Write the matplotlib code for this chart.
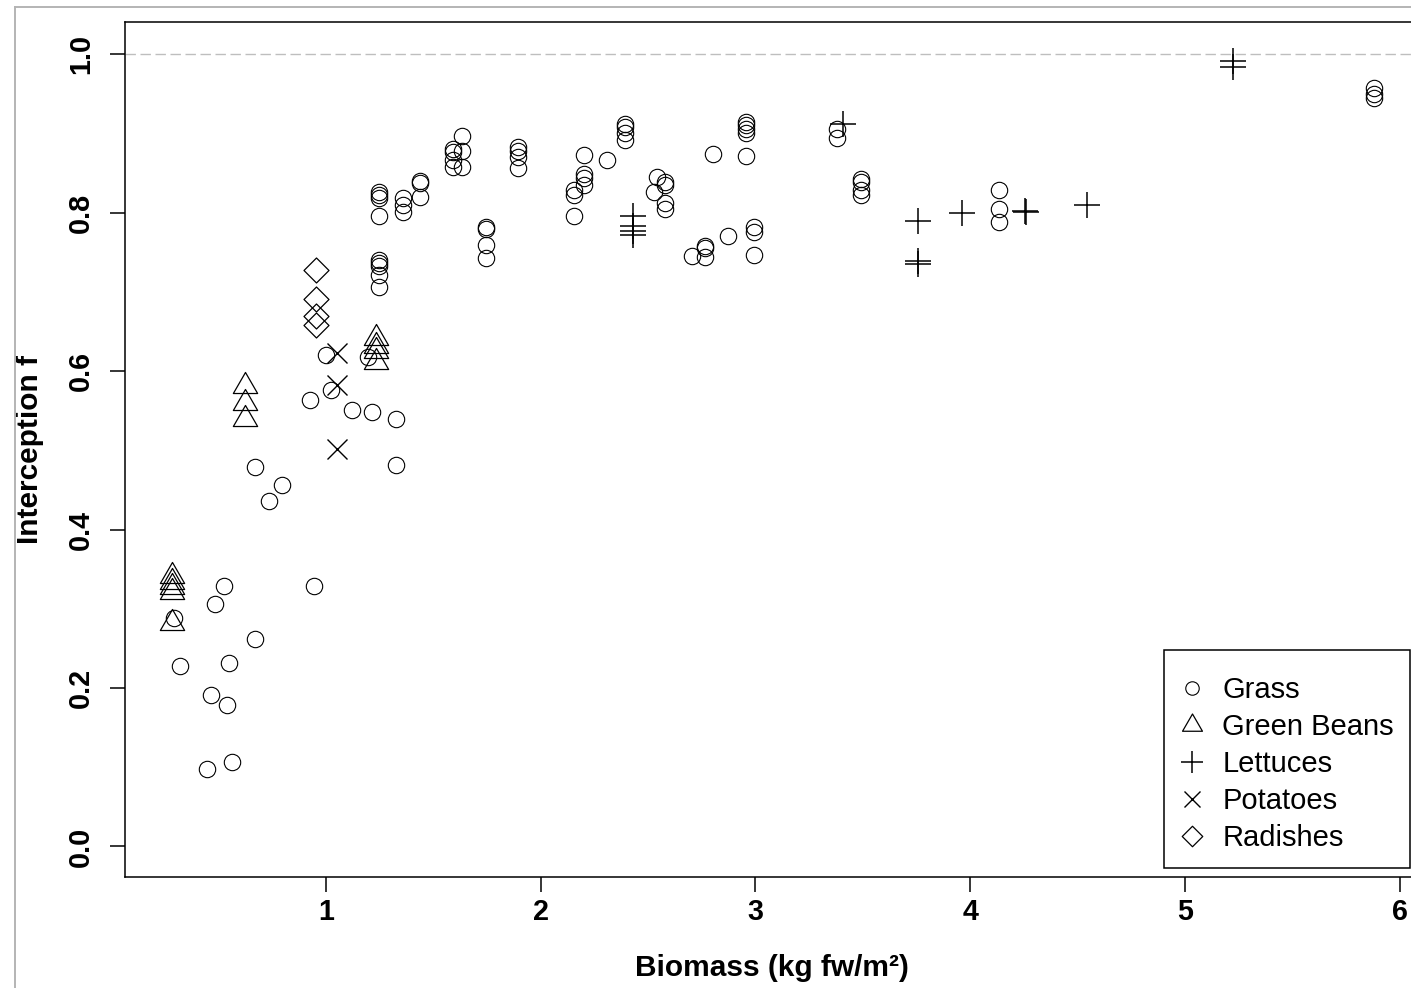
import matplotlib
matplotlib.use("Agg")
import matplotlib.pyplot as plt
from matplotlib.path import Path
from matplotlib.lines import Line2D

plt.rcParams["font.family"] = ["Liberation Sans", "DejaVu Sans"]

# ---- data: biomass (kg fw/m2) and light interception fraction ----
grass_x = [0.320, 0.290, 0.464, 0.448, 0.483, 0.526, 0.550, 0.540, 0.561, 0.669,
           0.669, 0.735, 0.795, 0.943, 0.925, 1.000, 1.022, 1.122, 1.216, 1.326,
           1.326, 1.195,
           1.248, 1.248, 1.248, 1.248, 1.248, 1.248, 1.248, 1.248, 1.248,
           1.360, 1.360, 1.360,
           1.438, 1.438, 1.438,
           1.590, 1.590, 1.590, 1.590,
           1.632, 1.632, 1.632,
           1.744, 1.744, 1.744, 1.744,
           1.895, 1.895, 1.895, 1.895,
           2.157, 2.157, 2.157,
           2.203, 2.203, 2.203, 2.203,
           2.307,
           2.392, 2.392, 2.392, 2.392,
           2.540, 2.527,
           2.579, 2.579, 2.579, 2.579,
           2.703,
           2.765, 2.765, 2.765,
           2.800, 2.873,
           2.958, 2.958, 2.958, 2.958, 2.958,
           2.995, 2.995, 2.995,
           3.378, 3.378,
           3.490, 3.490, 3.490, 3.490,
           4.135, 4.135, 4.135,
           5.880, 5.880, 5.880]
grass_y = [0.228, 0.288, 0.191, 0.098, 0.306, 0.329, 0.232, 0.179, 0.106, 0.262,
           0.479, 0.436, 0.456, 0.329, 0.563, 0.620, 0.576, 0.551, 0.548, 0.539,
           0.481, 0.618,
           0.826, 0.822, 0.818, 0.796, 0.740, 0.736, 0.733, 0.721, 0.706,
           0.818, 0.809, 0.801,
           0.840, 0.837, 0.820,
           0.880, 0.876, 0.866, 0.858,
           0.896, 0.878, 0.858,
           0.782, 0.779, 0.759, 0.742,
           0.883, 0.877, 0.870, 0.856,
           0.828, 0.822, 0.796,
           0.873, 0.849, 0.843, 0.835,
           0.866,
           0.912, 0.908, 0.900, 0.891,
           0.845, 0.826,
           0.839, 0.835, 0.812, 0.805,
           0.745,
           0.758, 0.755, 0.744,
           0.874, 0.770,
           0.914, 0.910, 0.906, 0.900, 0.871,
           0.782, 0.776, 0.746,
           0.905, 0.894,
           0.842, 0.838, 0.828, 0.822,
           0.828, 0.805, 0.788,
           0.957, 0.950, 0.944]

beans_x = [0.285, 0.285, 0.285, 0.285, 0.285,
           0.623, 0.623, 0.623,
           1.231, 1.231, 1.231, 1.231]
beans_y = [0.341, 0.334, 0.328, 0.321, 0.282,
           0.581, 0.560, 0.540,
           0.642, 0.632, 0.625, 0.611]

lettuce_x = [2.428, 2.428, 2.428, 2.428, 3.409, 3.755, 3.755, 3.755,
             3.963, 4.253, 4.260, 4.542, 5.222, 5.222]
lettuce_y = [0.795, 0.783, 0.777, 0.771, 0.912, 0.789, 0.739, 0.735,
             0.799, 0.802, 0.801, 0.810, 0.991, 0.983]

potato_x = [1.050, 1.050, 1.050]
potato_y = [0.623, 0.582, 0.501]

radish_x = [0.952, 0.952, 0.952, 0.952]
radish_y = [0.727, 0.691, 0.669, 0.658]

x_ticks = [1, 2, 3, 4, 5, 6]
y_ticks = [0.0, 0.2, 0.4, 0.6, 0.8, 1.0]

# ---- marker shapes (open symbols, centred on the data point) ----
MC = [Path.MOVETO, Path.LINETO, Path.LINETO, Path.CLOSEPOLY]
triangle = Path([(0, 1), (-0.866, -0.5), (0.866, -0.5), (0, 0)], MC)
diamond = Path([(0, 1), (1, 0), (0, -1), (-1, 0), (0, 0)],
               [Path.MOVETO, Path.LINETO, Path.LINETO, Path.LINETO, Path.CLOSEPOLY])

W, H = 1411, 988
fig = plt.figure(figsize=(W / 100, H / 100), dpi=100)
# plot region in pixels: left 125, right 1421 (runs past the edge), top 22, bottom 877
ax = fig.add_axes([125 / W, (H - 877) / H, (1421 - 125) / W, (877 - 22) / H])
ax.set_xlim(0.064, 6.099)
ax.set_ylim(-0.0385, 1.0404)

ax.axhline(1.0, color="#bebebe", lw=1.0, ls=(0, (7.5, 3.3)), zorder=1)

common = dict(ls="none", mfc="none", mec="black", zorder=3)
ax.plot(grass_x, grass_y, marker="o", ms=11.8, mew=0.8, label="Grass", **common)
ax.plot(beans_x, beans_y, marker=triangle, ms=20.2, mew=0.9, label="Green Beans", **common)
ax.plot(lettuce_x, lettuce_y, marker="+", ms=18.7, mew=1.1, label="Lettuces", **common)
ax.plot(potato_x, potato_y, marker="x", ms=14.9, mew=1.0, label="Potatoes", **common)
ax.plot(radish_x, radish_y, marker=diamond, ms=18.0, mew=0.9, label="Radishes", **common)

for s in ax.spines.values():
    s.set_linewidth(1.1)
ax.set_xticks(x_ticks)
ax.set_xticklabels([str(t) for t in x_ticks])
ax.set_yticks(y_ticks)
ax.set_yticklabels([f"{t:.1f}" for t in y_ticks], rotation=90, va="center")
ax.tick_params(axis="both", length=10.5, width=1.1, labelsize=20.7, color="black")
ax.tick_params(axis="x", pad=4.5)
ax.tick_params(axis="y", pad=11)
for lab in ax.get_xticklabels() + ax.get_yticklabels():
    lab.set_fontweight("bold")

ax.set_xlabel("Biomass (kg fw/m²)", fontsize=21.5, fontweight="bold", va="center")
ax.xaxis.set_label_coords((772 - 125) / 1296, -(968 - 877) / 855)
ax.set_ylabel("Interception f", fontsize=21.5, fontweight="bold", va="center")
ax.yaxis.set_label_coords(-(125 - 30) / 1296, 0.5)

# a blank, tiny title gives the legend box a little extra room above the first row
leg = ax.legend(loc="lower right", bbox_to_anchor=(1410 / W, (H - 868) / H),
                bbox_transform=fig.transFigure, borderaxespad=0,
                fontsize=21, frameon=True, fancybox=False, edgecolor="black",
                framealpha=1, markerscale=0.82, handlelength=0.82,
                handletextpad=0.62, borderpad=0.55, labelspacing=0.31,
                title=" ", title_fontsize=1)
leg.get_frame().set_linewidth(1.1)

# thin grey outer frame along the top and left of the image
fig.add_artist(Line2D([15 / W, 15 / W], [0, 1 - 7 / H], transform=fig.transFigure,
                      color="#b4b4b4", lw=1.4))
fig.add_artist(Line2D([15 / W, 1], [1 - 7 / H, 1 - 7 / H], transform=fig.transFigure,
                      color="#b4b4b4", lw=1.4))

fig.savefig("out.png", dpi=100, facecolor="white")
